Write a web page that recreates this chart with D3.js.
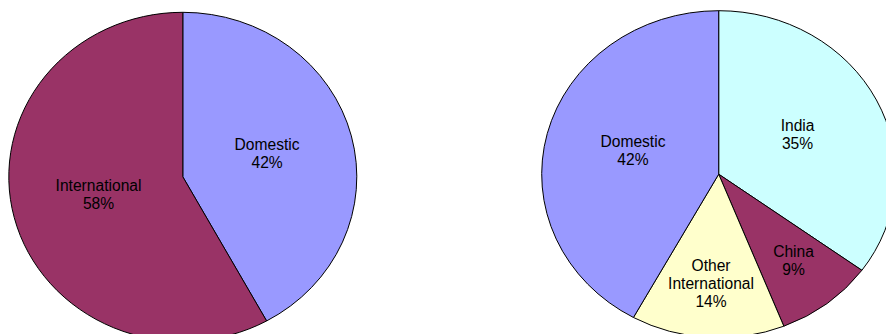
<!DOCTYPE html>
<html>
<head>
<meta charset="utf-8">
<script src="https://cdn.jsdelivr.net/npm/d3@7/dist/d3.min.js"></script>
<style>
  html, body { margin: 0; padding: 0; background: #fff; }
  svg { display: block; }
  .lbl { font-family: "Liberation Sans", Arial, sans-serif; font-size: 15.6px; fill: #000; }
</style>
</head>
<body>
<svg id="chart" width="886" height="334"></svg>
<script>
// Revenue split: domestic vs international
const splitCategories = ["Domestic", "International"];
const splitValues = [42, 58];

// International broken out by country
const detailCategories = ["India", "China", "Other International", "Domestic"];
const detailValues = [35, 9, 14, 42];

const palette = {
  "Domestic": "#9999ff",
  "International": "#993366",
  "India": "#ccffff",
  "China": "#993366",
  "Other International": "#ffffcc"
};

const svg = d3.select("#chart");

function drawPie(categories, values, cx, cy, rx, ry) {
  const data = categories.map((c, i) => ({ name: c, value: values[i] }));
  const total = d3.sum(values);
  const pie = d3.pie().sort(null).value(d => d.value);
  const arcs = pie(data);
  const arc = d3.arc().innerRadius(0).outerRadius(rx);

  // the pie is drawn slightly squashed vertically
  const g = svg.append("g")
    .attr("transform", `translate(${cx},${cy}) scale(1,${ry / rx})`);

  g.selectAll("path")
    .data(arcs)
    .join("path")
    .attr("d", arc)
    .attr("fill", d => palette[d.data.name])
    .attr("stroke", "#000")
    .attr("stroke-width", 1)
    .attr("stroke-linejoin", "round")
    .attr("vector-effect", "non-scaling-stroke");

  const lineH = 18;
  arcs.forEach(a => {
    const frac = a.data.value / total;
    const k = frac > 0.25 ? 0.5 : 0.69;
    const mid = (a.startAngle + a.endAngle) / 2;
    const x = cx + k * rx * Math.sin(mid);
    const y = cy - k * ry * Math.cos(mid);
    const words = (frac < 0.25 && a.data.name.includes(" "))
      ? a.data.name.split(" ")
      : [a.data.name];
    const lines = words.concat([a.data.value + "%"]);
    const t = svg.append("text")
      .attr("class", "lbl")
      .attr("text-anchor", "middle");
    lines.forEach((ln, i) => {
      t.append("tspan")
        .attr("x", x)
        .attr("y", y + (i - (lines.length - 1) / 2) * lineH + 2.5)
        .text(ln);
    });
  });
}

drawPie(splitCategories, splitValues, 182.8, 176.8, 174, 164.5);
drawPie(detailCategories, detailValues, 718.7, 174.2, 177, 163.5);
</script>
</body>
</html>
